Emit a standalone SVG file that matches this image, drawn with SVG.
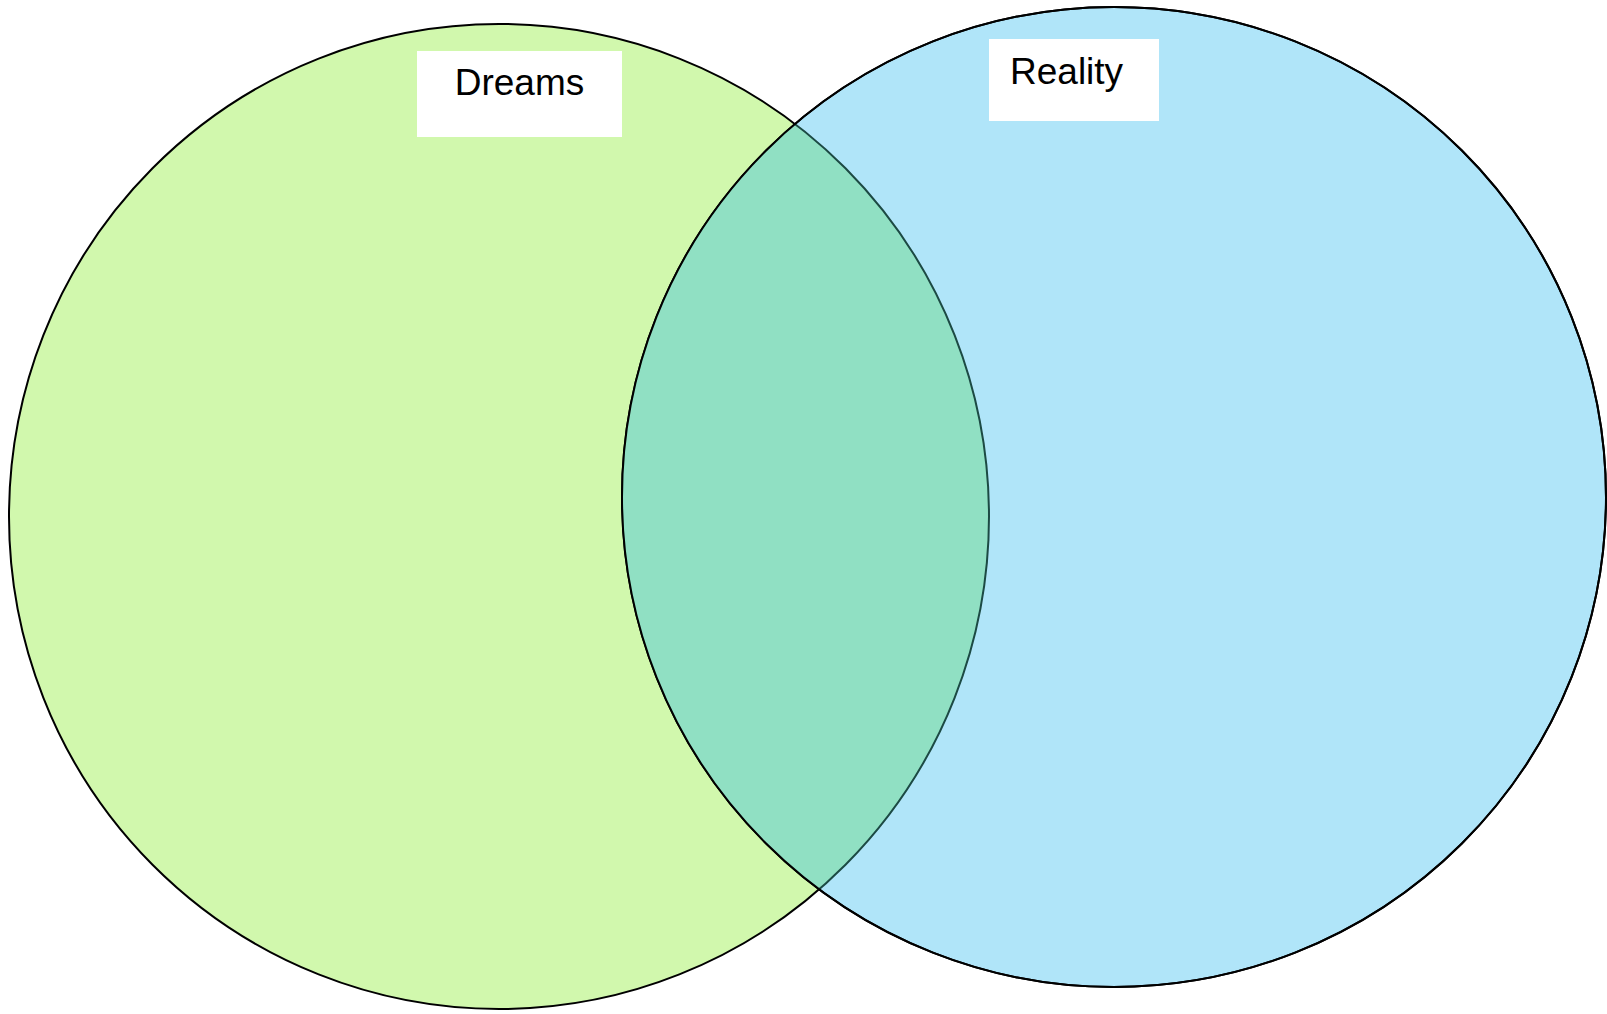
<svg xmlns="http://www.w3.org/2000/svg" width="1607" height="1014" viewBox="0 0 1607 1014">
<style>
.lbl{fill:#ffffff;stroke:none}
.txt{font-family:"Liberation Sans",Arial,sans-serif;font-size:37px;fill:#000000}
.edge{fill:none;stroke:#000000;stroke-width:2}
</style>
<defs>
<clipPath id="clipR"><ellipse cx="1114" cy="497" rx="492" ry="490"/></clipPath>
</defs>
<rect width="1607" height="1014" fill="#ffffff"/>
<g id="dreams-set">
<ellipse cx="499" cy="516.5" rx="490" ry="492.5" fill="#d1f8ad" stroke="#000000" stroke-width="2"/>
</g>
<g id="reality-set">
<ellipse cx="1114" cy="497" rx="492" ry="490" fill="#b0e5f9" stroke="#000000" stroke-width="2"/>
</g>
<g id="overlap">
<ellipse cx="499" cy="516.5" rx="490" ry="492.5" fill="#90e0c3" stroke="#1c4a44" stroke-width="2" clip-path="url(#clipR)"/>
<ellipse cx="1114" cy="497" rx="492" ry="490" class="edge"/>
</g>
<g id="label-dreams">
<rect x="417" y="51" width="205" height="86" class="lbl"/>
<text x="519.5" y="95" text-anchor="middle" class="txt">Dreams</text>
</g>
<g id="label-reality">
<rect x="989" y="39" width="170" height="82" class="lbl"/>
<text x="1010" y="84" class="txt">Reality</text>
</g>
<g id="connectors"></g>
</svg>
